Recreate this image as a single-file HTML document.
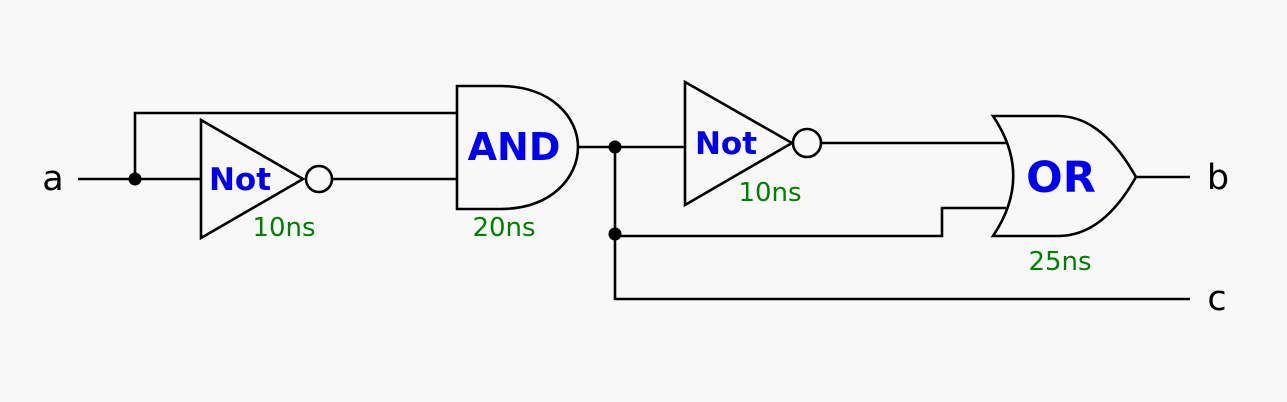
<!DOCTYPE html>
<html><head><style>
html,body{margin:0;padding:0;background:#f8f8f8;}
svg{display:block;}
text{font-family:"DejaVu Sans","Liberation Sans",sans-serif;}
</style></head><body>
<svg width="1287" height="402" viewBox="0 0 1287 402" xmlns="http://www.w3.org/2000/svg">
<rect width="1287" height="402" fill="#f8f8f8"/>
<g fill="none" stroke="#000" stroke-width="2.6">
<path d="M78 179 H201"/>
<path d="M135 179 V113 H457"/>
<path d="M201 120 L201 238 L303 179 Z" fill="#f8f8f8"/>
<circle cx="319" cy="179" r="13" fill="#f8f8f8"/>
<path d="M332 179 H457"/>
<path d="M457 86 H500 C552 86 578 118 578 147 C578 177 552 209 500 209 H457 Z" fill="#f8f8f8"/>
<path d="M578 147 H685"/>
<path d="M615 147 V299 H1190"/>
<path d="M685 82 L685 205 L792 143 Z" fill="#f8f8f8"/>
<circle cx="807" cy="143" r="14" fill="#f8f8f8"/>
<path d="M821 143 H1006"/>
<path d="M615 236 H942 V208 H1006"/>
<path d="M993 116 H1058 C1090 116 1115 140 1136 177 C1115 214 1090 236 1058 236 H993 C1020 196 1020 156 993 116 Z" fill="#f8f8f8"/>
<path d="M1136 177 H1190"/>
</g>
<g fill="#000">
<circle cx="135" cy="179" r="6.5"/>
<circle cx="615" cy="147" r="6.5"/>
<circle cx="615" cy="234" r="6.5"/>
</g>
<g font-size="35" fill="#000">
<text x="53" y="190" text-anchor="middle">a</text>
<text x="1218" y="189" text-anchor="middle">b</text>
<text x="1217" y="310" text-anchor="middle">c</text>
</g>
<g fill="#0000ee" font-weight="bold" text-anchor="middle">
<text x="240" y="190" font-size="31">Not</text>
<text x="726" y="154" font-size="31">Not</text>
<text x="514" y="160" font-size="38">AND</text>
<text x="1061" y="192" font-size="43">OR</text>
</g>
<g fill="#008000" font-size="26" text-anchor="middle">
<text x="284" y="236">10ns</text>
<text x="504" y="236">20ns</text>
<text x="770" y="201">10ns</text>
<text x="1060" y="270">25ns</text>
</g>
</svg>
</body></html>
